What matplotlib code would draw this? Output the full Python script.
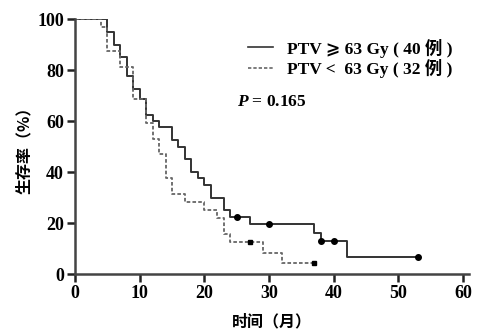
import matplotlib.pyplot as plt
from matplotlib.lines import Line2D

# PTV >= 63 Gy (40 例)
t_hi = [0, 5, 6, 7, 8, 9, 10, 11, 12, 13, 15, 16, 17, 18, 19, 20, 21, 23, 24, 27, 37, 38, 42, 53]
s_hi = [100, 95, 90, 85, 77.5, 72.5, 68.5, 62.5, 60, 57.5, 52.5, 50, 45, 40, 37.5, 35, 30, 25, 22.5, 19.8, 16, 13, 6.5, 6.5]
cens_hi_t = [25, 30, 38, 40, 53]
cens_hi_s = [22.5, 19.8, 13, 13, 6.5]

# PTV < 63 Gy (32 例)
t_lo = [0, 4, 5, 7, 9, 11, 12, 13, 14, 15, 17, 20, 22, 23, 24, 29, 32, 37]
s_lo = [100, 96.9, 87.5, 81.3, 68.8, 59.4, 53.1, 46.9, 37.5, 31.3, 28.1, 25, 21.9, 15.6, 12.5, 8.3, 4.2, 4.2]
cens_lo_t = [27, 37]
cens_lo_s = [12.5, 4.2]

xticks = [0, 10, 20, 30, 40, 50, 60]
yticks = [0, 20, 40, 60, 80, 100]

fam = ['Liberation Serif', 'Noto Sans CJK SC', 'DejaVu Sans']
plt.rcParams['font.family'] = fam
plt.rcParams['font.weight'] = 'bold'
plt.rcParams['mathtext.fontset'] = 'custom'
plt.rcParams['mathtext.it'] = 'Liberation Serif:italic'
plt.rcParams['mathtext.rm'] = 'Liberation Serif:bold'

fig = plt.figure(figsize=(4.84, 3.35), dpi=100)
ax = fig.add_axes([0.155, 0.182, 0.815, 0.761])

c1 = '#333333'
c2 = '#666666'
ax.step(t_hi, s_hi, where='post', color=c1, lw=1.4)
ax.step(t_lo, s_lo, where='post', color=c2, lw=1.3, linestyle=(0, (2, 1.2)))
ax.plot(cens_hi_t, cens_hi_s, 'o', color='black', ms=4)
ax.plot(cens_lo_t, cens_lo_s, 's', color='black', ms=3.5)

ax.set_xlim(0, 61)
ax.set_ylim(0, 100)
ax.set_xticks(xticks)
ax.set_yticks(yticks)
for s in ['top', 'right']:
    ax.spines[s].set_visible(False)
for s in ['left', 'bottom']:
    ax.spines[s].set_linewidth(1.8)
    ax.spines[s].set_color('#444444')
ax.tick_params(width=1.8, length=6, labelsize=13, color='#222222', pad=2)

ax.set_xlabel('时间（月）', fontsize=11.5, fontweight='bold', family=['Noto Sans CJK SC'], labelpad=8)
ax.set_ylabel('生存率（%）', fontsize=11.5, fontweight='bold', family=['Noto Sans CJK SC'], labelpad=4)

handles = [Line2D([], [], color=c1, lw=1.2),
           Line2D([], [], color=c2, lw=1.2, linestyle=(0, (2, 1.2)))]
labels = ['PTV ⩾ 63 Gy ( 40 例 )', 'PTV <  63 Gy ( 32 例 )']
ax.legend(handles, labels, loc='upper left', bbox_to_anchor=(0.40, 0.985), frameon=False,
          prop={'family': fam, 'weight': 'bold', 'size': 12.5},
          handlelength=1.4, handletextpad=0.8, labelspacing=0.1)

ax.text(0.41, 0.66, '$P$ = 0.165', transform=ax.transAxes, fontsize=12.5, fontweight='bold')

fig.savefig('out.png', dpi=100)
